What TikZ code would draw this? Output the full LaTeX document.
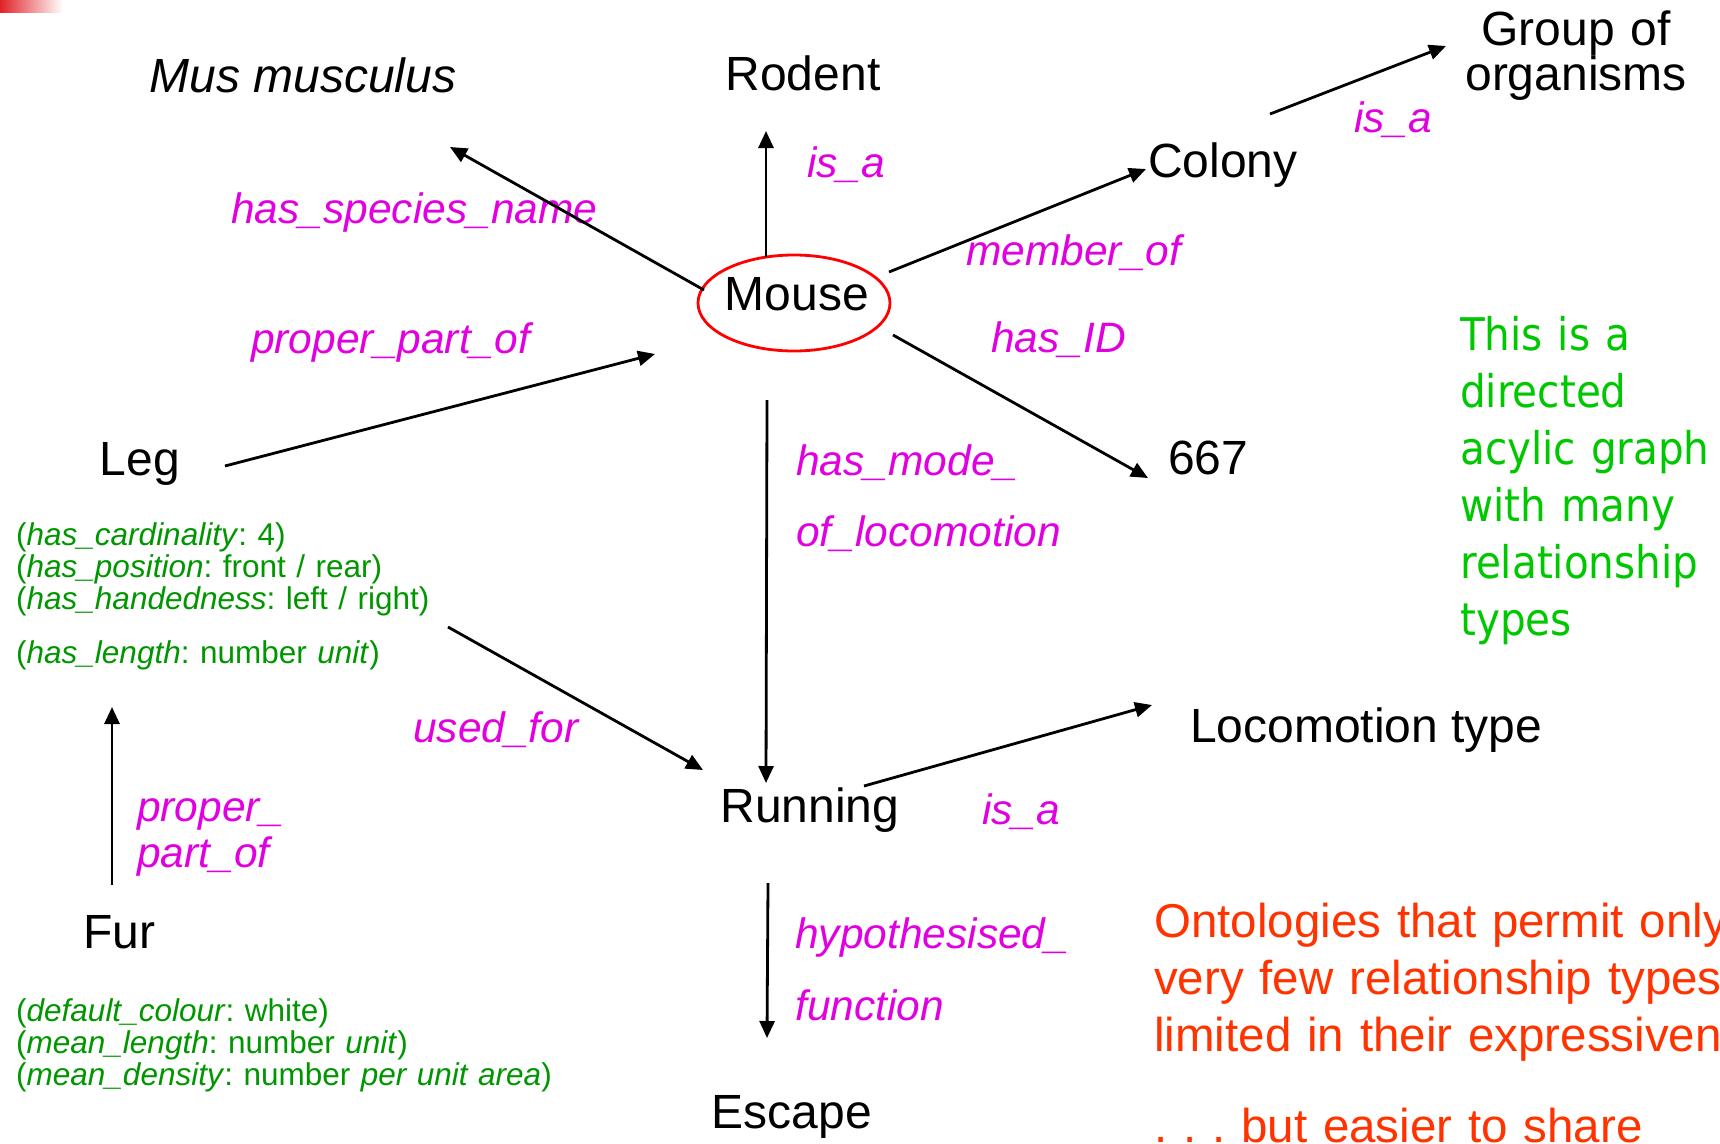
\documentclass[tikz,border=0pt]{standalone}
\usepackage{fontspec}
\setmainfont{Liberation Sans}
\newfontfamily\notefont[FakeStretch=0.9]{DejaVu Sans}
\usetikzlibrary{arrows.meta,shapes.geometric}
\definecolor{relcol}{RGB}{224,0,224}
\definecolor{attrcol}{RGB}{0,150,0}
\definecolor{notecol}{RGB}{0,200,0}
\definecolor{warncol}{RGB}{255,51,0}
\definecolor{barred}{RGB}{225,35,40}

\begin{document}
\frenchspacing
\begin{tikzpicture}[x=1pt,y=-1pt,
  concept/.style={inner sep=0pt, font=\fontsize{48}{45}\selectfont},
  rel/.style={inner sep=0pt, text=relcol, anchor=base west, font=\fontsize{42.5}{46}\selectfont\itshape},
  attrs/.style={inner sep=0pt, text=attrcol, font=\fontsize{31.5}{32}\selectfont,
    text width=600pt, align=left, anchor=base west},
  arr/.style={line width=2.8pt, -{Triangle[length=17pt,width=15pt]}},
]
\useasboundingbox (0,0) rectangle (1720,1143);
\clip (0,0) rectangle (1720,1143);

% corner accent bar
\shade[left color=barred, right color=white] (0,0) rectangle (63,12);

% concepts
\node[concept, anchor=base, font=\fontsize{48}{45}\selectfont\itshape] (mus) at (303,92) {Mus musculus};
\node[concept, anchor=base] (rodent) at (803,90) {Rodent};
\node[concept, anchor=base, text width=300pt, align=center] (group) at (1576,45) {Group of\\organisms};
\node[concept, anchor=base] (colony) at (1223,177) {Colony};
\node[ellipse, draw=red, line width=2.8pt, minimum width=192pt, minimum height=96pt, inner sep=0pt] (mouse) at (794,303) {};
\node[concept, anchor=base] (mousetxt) at (797,310) {Mouse};
\node[concept, anchor=base] (leg) at (140,475) {Leg};
\node[concept, anchor=base west] (n667) at (1168,474) {667};
\node[concept, anchor=base west] (loctype) at (1190,742) {Locomotion type};
\node[concept, anchor=base] (running) at (810,822) {Running};
\node[concept, anchor=base] (fur) at (119,948) {Fur};
\node[concept, anchor=base] (escape) at (792,1128) {Escape};

% relationship labels
\node[rel] (lspecies) at (231,223) {has\_species\_name};
\node[rel] (lisaA) at (807,177) {is\_a};
\node[rel] (lisaB) at (1354,132) {is\_a};
\node[rel] (lmember) at (966,265) {member\_of};
\node[rel] (lhasid) at (991,352) {has\_ID};
\node[rel] (lpartA) at (251,353) {proper\_part\_of};
\node[rel, text width=320pt, align=left, font=\fontsize{42.5}{71}\selectfont\itshape] (lmode) at (796,475) {has\_mode\_\\of\_locomotion};
\node[rel] (lused) at (413,742) {used\_for};
\node[rel] (lisaC) at (982,824) {is\_a};
\node[rel, text width=220pt, align=left, font=\fontsize{42.5}{46}\selectfont\itshape] (lpartB) at (137,821) {proper\_\\part\_of};
\node[rel, text width=320pt, align=left, font=\fontsize{42.5}{72}\selectfont\itshape] (lhyp) at (795,948) {hypothesised\_\\function};

% attribute lists
\node[attrs] (legattr) at (16,545) {(\textit{has\_cardinality}: 4)\\(\textit{has\_position}: front / rear)\\(\textit{has\_handedness}: left / right)\\[22.5pt](\textit{has\_length}: number \textit{unit})};
\node[attrs] (furattr) at (16,1021) {(\textit{default\_colour}: white)\\(\textit{mean\_length}: number \textit{unit})\\(\textit{mean\_density}: number \textit{per unit area})};

% side notes
\node[inner sep=0pt, anchor=base west, text=notecol, text width=420pt, align=left,
  font=\notefont\fontsize{45}{57}\selectfont] (note) at (1460,350)
  {This is a\\directed\\acylic graph\\with many\\relationship\\types};
\node[inner sep=0pt, anchor=base west, text=warncol, text width=800pt, align=left,
  font=\fontsize{47.5}{57}\selectfont] (warn) at (1154,937)
  {Ontologies that permit only\\very few relationship types\\limited in their expressiveness\\[34pt]. . . but easier to share};

% relationships
\draw[arr] ([shift={(-90,-13)}]mouse.center) -- ([shift={(147,55)}]mus.base);
\draw[arr] ([shift={(-28,-46)}]mouse.center) -- ([shift={(-37,41)}]rodent.base);
\draw[arr] ([shift={(95,-31)}]mouse.center) -- ([shift={(-77,-8)}]colony.base);
\draw[arr] ([shift={(47,-63)}]colony.base) -- ([shift={(-130,1)}]group.base);
\draw[arr] ([shift={(85,-9)}]leg.base) -- ([shift={(-139,51)}]mouse.center);
\draw[arr] ([shift={(99,32)}]mouse.center) -- ([shift={(-20,4)}]n667.base west);
\draw[arr] ([shift={(-27,97)}]mouse.center) -- ([shift={(-44,-39)}]running.base);
\draw[arr] ([shift={(432,82)}]legattr.base west) -- ([shift={(-107,-52)}]running.base);
\draw[arr] ([shift={(54,-36)}]running.base) -- ([shift={(-38,-37)}]loctype.base west);
\draw[arr] ([shift={(-7,-63)}]fur.base) -- ([shift={(96,162)}]legattr.base west);
\draw[arr] ([shift={(-42,61)}]running.base) -- ([shift={(-25,-90)}]escape.base);
\end{tikzpicture}
\end{document}
